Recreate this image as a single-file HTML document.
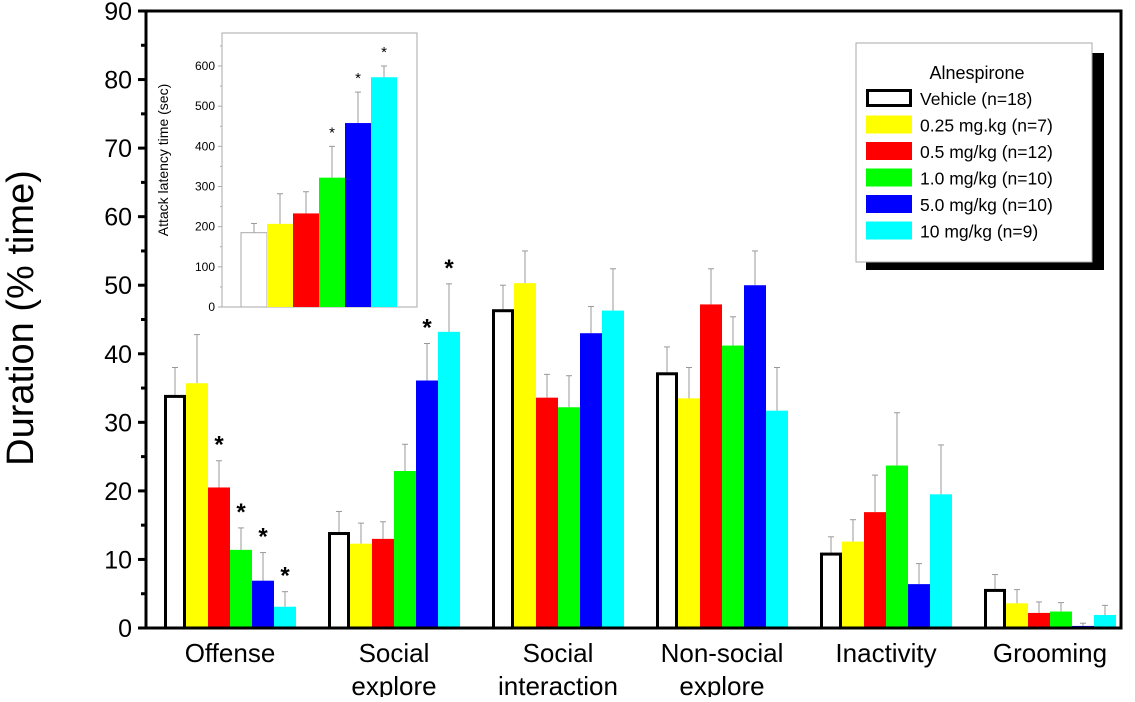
<!DOCTYPE html>
<html><head><meta charset="utf-8"><style>
body{margin:0;background:#fff;}
svg text{font-family:"Liberation Sans",sans-serif;}
</style></head><body>
<svg id="c" width="1135" height="697" viewBox="0 0 1135 697" xmlns="http://www.w3.org/2000/svg"></svg>
<script>
const categories=[["Offense"],["Social","explore"],["Social","interaction"],["Non-social","explore"],["Inactivity"],["Grooming"]];
const seriesNames=["Vehicle (n=18)","0.25 mg.kg (n=7)","0.5 mg/kg (n=12)","1.0 mg/kg (n=10)","5.0 mg/kg (n=10)","10 mg/kg (n=9)"];
const colors=["#ffffff","#ffff00","#ff0000","#00ff00","#0000ff","#00ffff"];
const vehicle=[34,14,46.5,37.3,11,5.7];
const dose025=[35.7,12.3,50.3,33.5,12.6,3.6];
const dose05=[20.5,13,33.6,47.2,16.9,2.2];
const dose10=[11.4,22.9,32.2,41.2,23.7,2.4];
const dose50=[6.9,36.1,43,50,6.4,0.3];
const dose100=[3.1,43.2,46.3,31.7,19.5,1.9];
const errVehicle=[4,3,3.5,3.7,2.3,2.1];
const err025=[7.1,3,4.7,4.5,3.2,2];
const err05=[3.9,2.5,3.4,5.2,5.4,1.6];
const err10=[3.2,3.9,4.6,4.2,7.7,1.3];
const err50=[4.1,5.4,3.9,5,3,0.4];
const err100=[2.2,7,6.1,6.3,7.2,1.4];
const starsMain=[[0,2],[0,3],[0,4],[0,5],[1,4],[1,5]];
const yTicks=[0,10,20,30,40,50,60,70,80,90];
const insetValues=[185,207,233,322,458,572];
const insetErr=[23,75,54,78,77,28];
const insetStars=[3,4,5];
const insetTicks=[0,100,200,300,400,500,600];

const svg=document.getElementById('c');
const NS="http://www.w3.org/2000/svg";
function mk(tag,attrs,parent){const e=document.createElementNS(NS,tag);for(const k in attrs)e.setAttribute(k,attrs[k]);(parent||svg).appendChild(e);return e;}
const series=[vehicle,dose025,dose05,dose10,dose50,dose100];
const errs=[errVehicle,err025,err05,err10,err50,err100];
const X0=146,X1=1121,Y0=628,Y1=11;
const y=v=>Y0-(v/90)*(Y0-Y1);
const groupX=i=>164+i*164;
const BW=22;
const barX=(g,s)=>groupX(g)+s*BW;

series.forEach((ser,s)=>ser.forEach((v,g)=>{
  const e=errs[s][g];
  const cx=barX(g,s)+BW/2;
  const el=mk('line',{x1:cx,x2:cx,y1:y(v),y2:y(v+e),stroke:'#999','stroke-width':1});
  
  
  const cap=mk('line',{x1:cx-3,x2:cx+3,y1:y(v+e),y2:y(v+e),stroke:'#999','stroke-width':1});
  
  
  const r=mk('rect',{x:barX(g,s)+(s==0?1.5:0),y:y(v)+(s==0?1.5:0),width:BW-(s==0?3:0),height:Math.max(0,y(0)-y(v)-(s==0?1.5:0)),fill:colors[s],stroke:s==0?'#000':'none','stroke-width':3});
  
  
}));
starsMain.forEach(([g,s])=>{
  const t=mk('text',{x:barX(g,s)+BW/2,y:y(series[s][g]+errs[s][g])-8,'text-anchor':'middle','font-size':24,'font-weight':'bold'});
  t.textContent='*';
  
  
});
const fr=mk('rect',{x:X0,y:Y1,width:X1-X0,height:Y0-Y1,fill:'none',stroke:'#000','stroke-width':3});


yTicks.forEach(t=>{
  mk('line',{x1:X0-8,x2:X0,y1:y(t),y2:y(t),stroke:'#000','stroke-width':3});
  if(t<90) mk('line',{x1:X0-5,x2:X0,y1:y(t+5),y2:y(t+5),stroke:'#000','stroke-width':3});
  const l=mk('text',{x:X0-14,y:y(t)+9,'text-anchor':'end','font-size':25});
  l.textContent=t;
  
  
});
categories.forEach((c,g)=>{
  const cx=groupX(g)+3*BW;
  c.forEach((line,i)=>{
    const l=mk('text',{x:cx,y:662+i*33,'text-anchor':'middle','font-size':26});
    l.textContent=line;
    
    
  });
});
const yt=mk('text',{x:0,y:0,transform:'translate(33,318) rotate(-90)','text-anchor':'middle','font-size':38});
yt.textContent='Duration (% time)';



const IX0=222,IX1=417,IY0=307,IY1=33;
const iy=v=>IY0-v*(IY0-66)/600;
const ib=mk('rect',{x:IX0,y:IY1,width:IX1-IX0,height:IY0-IY1,fill:'#fff',stroke:'#aaa','stroke-width':1});


insetTicks.forEach(t=>{
  mk('line',{x1:IX0-4,x2:IX0,y1:iy(t),y2:iy(t),stroke:'#aaa'});
  mk('line',{x1:IX0-2,x2:IX0,y1:iy(t+50),y2:iy(t+50),stroke:'#aaa'});
  const l=mk('text',{x:IX0-7,y:iy(t)+4,'text-anchor':'end','font-size':12});
  l.textContent=t;
  
  
});
const IBW=26;
insetValues.forEach((v,s)=>{
  const bx=241+s*IBW,cx=bx+IBW/2;
  mk('line',{x1:cx,x2:cx,y1:iy(v),y2:iy(v+insetErr[s]),stroke:'#999'});
  mk('line',{x1:cx-3,x2:cx+3,y1:iy(v+insetErr[s]),y2:iy(v+insetErr[s]),stroke:'#999'});
  const r=mk('rect',{x:bx,y:iy(v),width:IBW,height:iy(0)-iy(v),fill:colors[s],stroke:s==0?'#aaa':'none','stroke-width':1});
  
  
});
insetStars.forEach(s=>{
  const t=mk('text',{x:241+s*IBW+IBW/2,y:iy(insetValues[s]+insetErr[s])-9,'text-anchor':'middle','font-size':15});
  t.textContent='*';
  
  
});
const it=mk('text',{x:0,y:0,transform:'translate(168,160) rotate(-90)','text-anchor':'middle','font-size':14});
it.textContent='Attack latency time (sec)';



const lg=mk('g',{});


mk('rect',{x:866,y:53,width:238,height:217,fill:'#000'},lg);
mk('rect',{x:856,y:43,width:236,height:219,fill:'#fff',stroke:'#aaa'},lg);
const lt=mk('text',{x:977,y:79,'text-anchor':'middle','font-size':18},lg);
lt.textContent='Alnespirone';
seriesNames.forEach((n,s)=>{
  const ry=89+s*26.5;
  const sw=mk('rect',{x:s==0?867.5:866,y:s==0?ry+1.5:ry,width:s==0?43:46,height:s==0?15:18,fill:colors[s],stroke:s==0?'#000':'none','stroke-width':3},lg);
  
  
  const t=mk('text',{x:920,y:ry+16,'font-size':17.5},lg);
  t.textContent=n;
  
  
});
</script>
</body></html>
